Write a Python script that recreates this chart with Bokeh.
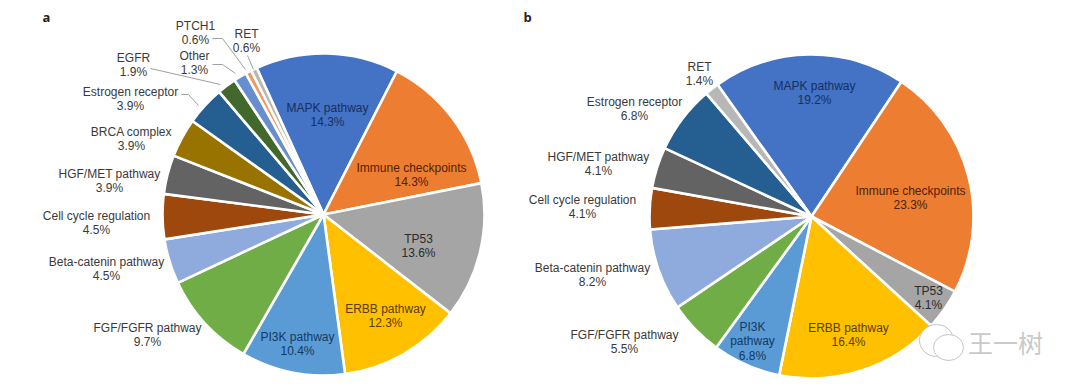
from math import pi
from bokeh.plotting import figure
from bokeh.layouts import row
from bokeh.models import Range1d
from bokeh.core.properties import value
from bokeh.embed import file_html
from bokeh.resources import INLINE

names_a = ["MAPK pathway", "Immune checkpoints", "TP53", "ERBB pathway", "PI3K pathway",
           "FGF/FGFR pathway", "Beta-catenin pathway", "Cell cycle regulation", "HGF/MET pathway",
           "BRCA complex", "Estrogen receptor", "EGFR", "Other", "PTCH1", "RET"]
values_a = [14.3, 14.3, 13.6, 12.3, 10.4, 9.7, 4.5, 4.5, 3.9, 3.9, 3.9, 1.9, 1.3, 0.6, 0.6]

names_b = ["MAPK pathway", "Immune checkpoints", "TP53", "ERBB pathway", "PI3K\npathway",
           "FGF/FGFR pathway", "Beta-catenin pathway", "Cell cycle regulation", "HGF/MET pathway",
           "Estrogen receptor", "RET"]
values_b = [19.2, 23.3, 4.1, 16.4, 6.8, 5.5, 8.2, 4.1, 4.1, 6.8, 1.4]

# styles and layout (page pixels)
DARK = "#3a3a3a"
style = {
    "MAPK pathway": ("#4472C4", "#16305f"),
    "Immune checkpoints": ("#ED7D31", "#4f2208"),
    "TP53": ("#A5A5A5", "#2b2b2b"),
    "ERBB pathway": ("#FFC000", "#5a3d00"),
    "PI3K pathway": ("#5B9BD5", "#123a63"),
    "PI3K\npathway": ("#5B9BD5", "#123a63"),
    "FGF/FGFR pathway": ("#70AD47", DARK),
    "Beta-catenin pathway": ("#8FAADC", DARK),
    "Cell cycle regulation": ("#9E480E", DARK),
    "HGF/MET pathway": ("#636363", DARK),
    "BRCA complex": ("#997300", DARK),
    "Estrogen receptor": ("#255E91", DARK),
    "EGFR": ("#43682B", DARK),
    "Other": ("#698ED0", DARK),
    "PTCH1": ("#F1975A", DARK),
    "RET": ("#B7B7B7", DARK),
}
label_xy_a = [(327, 107), (411, 167), (418, 238), (385, 308), (297, 336), (147, 327), (106, 261),
              (96, 215), (109, 173), (131, 131), (130, 91), (133, 57), (194, 55), (195, 25), (246, 33)]
label_xy_b = [(814, 85), (910, 190), (928, 290), (848, 327), (752, 326), (624, 334), (592, 267),
              (582, 199), (598, 156), (634, 101), (699, 66)]
leaders_a = [[(212, 38), (222, 38), (245, 69)], [(247, 55), (253, 69)],
             [(212, 64), (222, 64), (235, 73)], [(150, 68), (220, 84)],
             [(181, 94), (188, 94), (198, 105)]]
FONT = "Liberation Sans"
FS = "12px"
LINE = 14.5


def panel(names, values, cx, cy, R, start_deg, x0, x1, xy, tag, tag_xy, leaders=()):
    H = 380
    p = figure(width=x1 - x0, height=H, output_backend="svg", toolbar_location=None,
               x_range=Range1d(x0, x1), y_range=Range1d(6, 386),
               min_border=0, outline_line_color=None, background_fill_color="white",
               border_fill_color="white")
    p.axis.visible = False
    p.grid.visible = False
    Y = lambda y: 386 - y
    total = sum(values)
    a = pi / 2 - start_deg * pi / 180
    for v, n in zip(values, names):
        b = a - v / total * 2 * pi
        p.wedge(x=[cx], y=[Y(cy)], radius=R + 1, start_angle=[b], end_angle=[a],
                fill_color=style[n][0], line_color="white", line_width=2.6)
        a = b
    for pts in leaders:
        p.line([q[0] for q in pts], [Y(q[1]) for q in pts], line_color="#a0a0a0", line_width=1)
    for (x, y), n, v in zip(xy, names, values):
        lines = n.split("\n") + [f"{v}%"]
        for i, t in enumerate(lines):
            p.text([x], [Y(y + i * LINE)], text=[t], text_font=value(FONT), text_font_size=FS,
                   text_color=style[n][1], text_align="center", text_baseline="middle")
    p.text([tag_xy[0]], [Y(tag_xy[1])], text=[tag], text_font=value("Open Sans"), text_font_size="13px",
           text_font_style="bold", text_color="#222222", text_align="center", text_baseline="middle")
    return p


pa = panel(names_a, values_a, 323, 214, 160, -24.5, 0, 512, label_xy_a, "a", (46, 16), leaders_a)
pb = panel(names_b, values_b, 811, 216, 161, -35.5, 512, 1072, label_xy_b, "b", (527, 16))

# watermark
pb.ellipse([936], [386 - 340], width=34, height=32, fill_color="white", line_color="#c4c4c4", line_width=1)
pb.ellipse([948], [386 - 347], width=30, height=26, fill_color="white", line_color="#c4c4c4", line_width=1)
pb.text([1005], [386 - 341], text=["王一树"], text_font=value("Noto Sans CJK SC"), text_font_size="25px",
        text_color="#c9c9c9", text_align="center", text_baseline="middle")

open("out.html", "w").write(file_html(row(pa, pb, spacing=0), INLINE))
